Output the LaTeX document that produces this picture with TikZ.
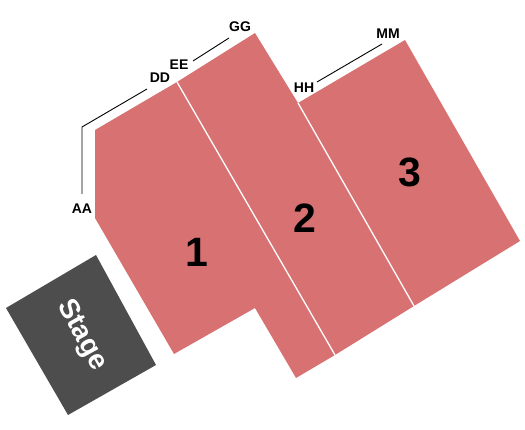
\documentclass[tikz,border=0pt]{standalone}
\usepackage{fontspec}
\setmainfont{Liberation Sans}
\definecolor{seat}{HTML}{D87171}
\definecolor{stagec}{HTML}{4D4D4D}
\tikzset{
  seatfill/.style={fill=seat, draw=none},
  divider/.style={draw=white, line width=1.3pt},
  rowline/.style={draw=black, line width=0.9pt},
  rowlab/.style={font=\bfseries\fontsize{14}{14}\selectfont, inner sep=0pt},
  seclab/.style={font=\bfseries\fontsize{41}{41}\selectfont, inner sep=0pt},
}
\begin{document}
\begin{tikzpicture}[x=1pt, y=-1pt]
\useasboundingbox (0,0) rectangle (525,430);
% seating area
\fill[seat] (95,130) -- (177,82) -- (255,33) -- (298,103) -- (405,40) -- (520,241) -- (414,306) -- (335,355) -- (296,378) -- (255,308) -- (174,354) -- (95,218) -- cycle;
\coordinate (d1a) at (177,82);
\coordinate (d1b) at (335,355);
\coordinate (d2a) at (298,103);
\coordinate (d2b) at (414,306);
\draw[divider] (d1a) -- (d1b);
\draw[divider] (d2a) -- (d2b);
% stage
\fill[stagec] (96,255) -- (156,365) -- (68,415) -- (6,308) -- cycle;
\node[text=white, rotate=-61, font=\bfseries\fontsize{28}{28}\selectfont, inner sep=0pt] (stage) at (81.5,335.5) {Stage};
% section labels
\node[seclab] (s1) at (197,252) {1};
\node[seclab] (s2) at (305,218) {2};
\node[seclab] (s3) at (410,172) {3};
% row labels
\node[rowlab] (AA) at (82,209) {AA};
\node[rowlab] (DD) at (160,78) {DD};
\node[rowlab] (EE) at (179,65) {EE};
\node[rowlab] (GG) at (240,27) {GG};
\node[rowlab] (HH) at (304,88) {HH};
\node[rowlab] (MM) at (388,34) {MM};
% row lines
\coordinate (aa1) at (82,194);
\coordinate (aa2) at (82,127);
\coordinate (dd1) at (147,89);
\coordinate (ee1) at (193,61);
\coordinate (gg1) at (229,38);
\coordinate (hh1) at (317,82);
\coordinate (mm1) at (382,44);
\draw[rowline] (aa1) -- (aa2) -- (dd1);
\draw[rowline] (ee1) -- (gg1);
\draw[rowline] (hh1) -- (mm1);
\end{tikzpicture}
\end{document}
